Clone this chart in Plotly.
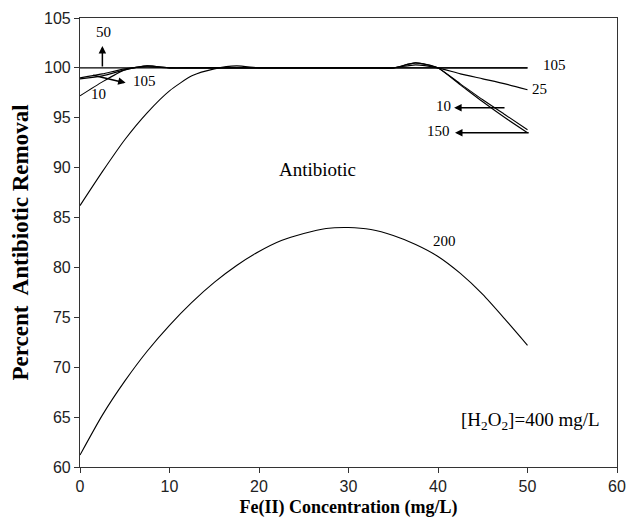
import plotly.graph_objects as go

x = [0, 2.5, 5, 7.5, 10, 12.5, 15, 17.5, 20, 22.5, 25, 27.5, 30, 32.5, 35, 37.5, 40, 42.5, 45, 47.5, 50]

c200 = [61.2, 65.2, 68.6, 71.6, 74.2, 76.5, 78.5, 80.2, 81.6, 82.7, 83.4, 83.9, 84.0, 83.8, 83.2, 82.3, 81.1, 79.4, 77.3, 74.8, 72.2]
c150 = [86.2, 89.6, 92.8, 95.5, 97.7, 99.2, 99.9, 100.2, 100.0, 100.0, 100.0, 100.0, 100.0, 100.0, 100.0, 100.5, 100.0, 98.3, 96.6, 95.0, 93.5]
c10 = [97.2, 98.6, 99.8, 100.2, 100.0, 100.0, 100.0, 100.0, 100.0, 100.0, 100.0, 100.0, 100.0, 100.0, 100.0, 100.5, 100.0, 98.4, 96.8, 95.3, 93.8]
c25 = [99.0, 99.4, 99.9, 100.1, 100.0, 100.0, 100.0, 100.0, 100.0, 100.0, 100.0, 100.0, 100.0, 100.0, 100.0, 100.3, 100.0, 99.4, 98.9, 98.4, 97.8]
c105 = [98.9, 99.2, 99.8, 100.2, 100.0, 100.0, 100.0, 100.0, 100.0, 100.0, 100.0, 100.0, 100.0, 100.0, 100.0, 100.0, 100.0, 100.0, 100.0, 100.0, 100.0]
c50 = [100.0, 100.0, 100.0, 100.0, 100.0, 100.0, 100.0, 100.0, 100.0, 100.0, 100.0, 100.0, 100.0, 100.0, 100.0, 100.0, 100.0, 100.0, 100.0, 100.0, 100.0]

series = {"200": c200, "150": c150, "10": c10, "25": c25, "105": c105, "50": c50}

fig = go.Figure()
for name, ys in series.items():
    fig.add_trace(go.Scatter(x=x, y=ys, mode="lines", name=name,
                             line=dict(color="black", width=1.1, shape="spline", smoothing=0.6),
                             showlegend=False, hoverinfo="skip"))

serif = "Liberation Serif, Times New Roman, serif"
num_font = dict(family=serif, size=15, color="black")
txt_font = dict(family=serif, size=19, color="black")

# text labels: (text, x, y, big)
labels = [
    ("50", 2.6, 103.6, False),
    ("10", 2.1, 97.4, False),
    ("105", 7.2, 98.7, False),
    ("105", 53.0, 100.3, False),
    ("25", 51.3, 97.9, False),
    ("10", 40.6, 96.2, False),
    ("150", 40.1, 93.7, False),
    ("200", 40.7, 82.7, False),
    ("Antibiotic", 26.5, 89.8, True),
    ("[H<sub>2</sub>O<sub>2</sub>]=400 mg/L", 50.3, 64.6, True),
]
for t, lx, ly, big in labels:
    fig.add_annotation(x=lx, y=ly, text=t, showarrow=False, font=txt_font if big else num_font)

# arrows: (head_x, head_y, tail_x, tail_y)
arrows = [
    (2.5, 102.2, 2.5, 100.0),
    (5.1, 98.5, 1.3, 99.3),
    (41.8, 96.0, 47.6, 96.0),
    (41.9, 93.5, 50.3, 93.5),
]
for hx, hy, tx, ty in arrows:
    fig.add_annotation(x=hx, y=hy, ax=tx, ay=ty, xref="x", yref="y", axref="x", ayref="y",
                       text="", showarrow=True, arrowhead=2, arrowsize=1, arrowwidth=1.5,
                       arrowcolor="black")

tick_font = dict(family="Liberation Sans, Arial, sans-serif", size=16, color="#222")

fig.update_layout(
    width=631, height=532,
    margin=dict(l=80, r=14, t=18, b=65),
    paper_bgcolor="white", plot_bgcolor="white",
    xaxis=dict(range=[0, 60], dtick=10, tick0=0, showgrid=False, zeroline=False,
               automargin=False,
               showline=True, linecolor="#333", linewidth=1.2, mirror=True,
               ticks="outside", ticklen=5, tickcolor="#333", tickfont=tick_font,
               title=dict(text="<b>Fe(II) Concentration (mg/L)</b>",
                          font=dict(family=serif, size=18, color="black"), standoff=6)),
    yaxis=dict(range=[60, 105], dtick=5, tick0=60, showgrid=False, zeroline=False,
               automargin=False,
               showline=True, linecolor="#333", linewidth=1.2, mirror=True,
               ticks="outside", ticklen=5, tickcolor="#333", tickfont=tick_font,
               title=dict(text="<b>Percent  Antibiotic Removal</b>",
                          font=dict(family=serif, size=23, color="black"), standoff=8)),
)

fig.write_html("out.html")
